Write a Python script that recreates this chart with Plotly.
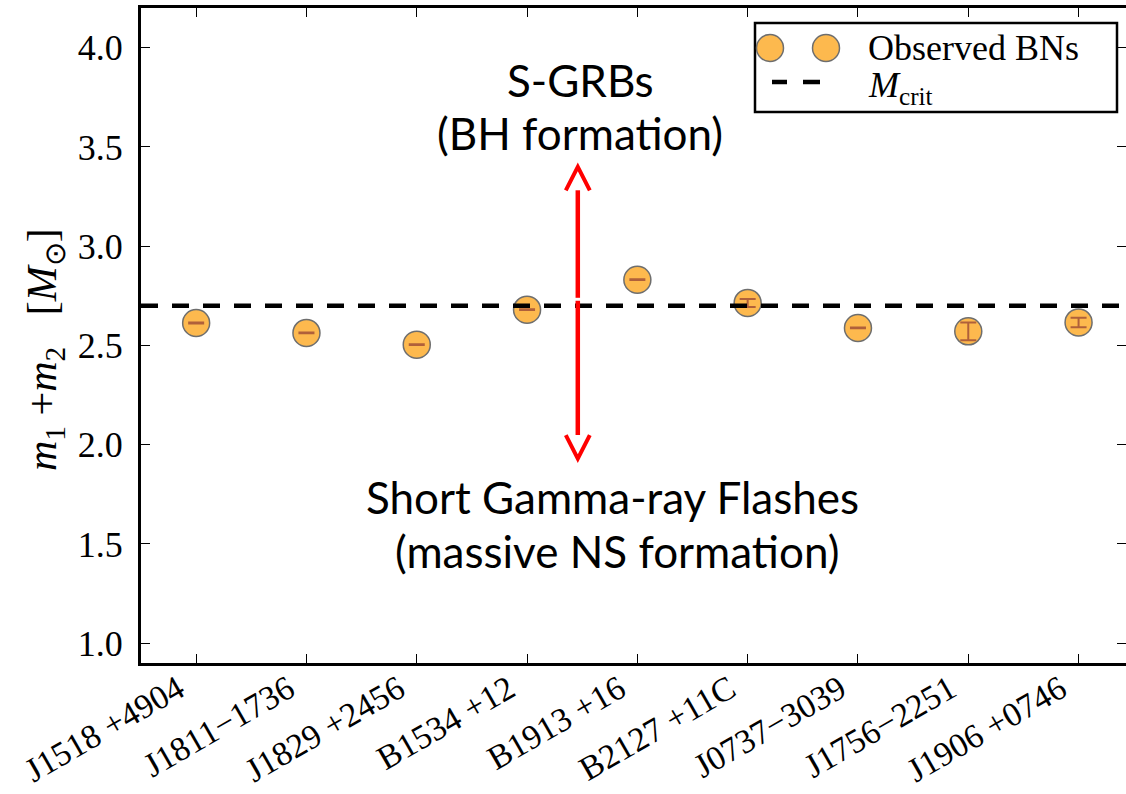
import plotly.graph_objects as go

# Double neutron star binaries and their total masses
pulsars = ["J1518 +4904", "J1811−1736", "J1829 +2456", "B1534 +12", "B1913 +16",
           "B2127 +11C", "J0737−3039", "J1756−2251", "J1906 +0746"]
total_mass = [2.613, 2.563, 2.504, 2.680, 2.831, 2.714, 2.588, 2.571, 2.616]
mass_err = [0.002, 0.002, 0.002, 0.002, 0.002, 0.020, 0.002, 0.045, 0.024]
M_CRIT = 2.70
y_ticks = [1.0, 1.5, 2.0, 2.5, 3.0, 3.5, 4.0]

# Region arrow (up: BH formation, down: massive NS formation)
ARROW_X = 3.46
ARROW_UP = (2.74, 3.40)
ARROW_DOWN = (2.725, 1.93)

W, H = 1126, 794
L, T, B = 141, 8, 131
PW, PH = W - L, H - T - B
X_RANGE = [-0.5, 8.43]
Y_RANGE = [0.9, 4.2]

SERIF = "Liberation Serif"
SANS = "Lato"
FILL = "#FDB94E"
EDGE = "#6E6E6E"
ERR = "#B0603A"


def px_x(px):
    return (px - L) / PW


def px_y(py):
    return (H - B - py) / PH


def ux(px):  # pixel length -> x data units
    return px * (X_RANGE[1] - X_RANGE[0]) / PW


def uy(px):  # pixel length -> y data units
    return px * (Y_RANGE[1] - Y_RANGE[0]) / PH


xs = list(range(len(pulsars)))

fig = go.Figure()
fig.add_trace(go.Scatter(
    x=xs, y=total_mass, mode="markers",
    marker=dict(size=27, color=FILL, line=dict(color=EDGE, width=1.5)),
    showlegend=False,
))
# error bars drawn above the markers
fig.add_trace(go.Scatter(
    x=xs, y=total_mass, mode="markers",
    marker=dict(size=1, color="rgba(0,0,0,0)"),
    error_y=dict(type="data", array=mass_err, color=ERR, thickness=2, width=8),
    showlegend=False, hoverinfo="skip",
))

shapes = []
# critical mass line
shapes.append(dict(type="line", xref="paper", yref="y", x0=0, x1=1, y0=M_CRIT, y1=M_CRIT,
                   line=dict(color="black", width=4.5, dash="17px,14px"), layer="above"))

# arrows with open chevron heads
red = dict(color="#FF0000", width=4.5)
dx, dy = ux(12), uy(23.5)
for start, tip in (ARROW_UP, ARROW_DOWN):
    sgn = 1 if tip > start else -1
    base = tip - sgn * dy
    shapes.append(dict(type="line", xref="x", yref="y", x0=ARROW_X, x1=ARROW_X,
                       y0=start, y1=base, line=red, layer="above"))
    shapes.append(dict(type="path", xref="x", yref="y",
                       path=f"M {ARROW_X - dx} {base} L {ARROW_X} {tip} L {ARROW_X + dx} {base}",
                       line=dict(color="#FF0000", width=4), layer="above"))

# legend box
shapes.append(dict(type="rect", xref="paper", yref="paper",
                   x0=px_x(755), x1=px_x(1117), y0=px_y(112), y1=px_y(23),
                   line=dict(color="black", width=2.5), fillcolor="white", layer="above"))
for cx in (770, 826):
    r = 13.5
    shapes.append(dict(type="circle", xref="paper", yref="paper",
                       x0=px_x(cx - r), x1=px_x(cx + r), y0=px_y(48 + r), y1=px_y(48 - r),
                       line=dict(color=EDGE, width=1.5), fillcolor=FILL, layer="above"))
for a, b in ((772, 787), (803, 820)):
    shapes.append(dict(type="line", xref="paper", yref="paper",
                       x0=px_x(a), x1=px_x(b), y0=px_y(82), y1=px_y(82),
                       line=dict(color="black", width=4.5), layer="above"))

annotations = [
    dict(xref="paper", yref="paper", x=px_x(866), y=px_y(48), xanchor="left", yanchor="middle",
         text="Observed BNs", showarrow=False, font=dict(family=SERIF, size=36, color="black")),
    dict(xref="paper", yref="paper", x=px_x(866), y=px_y(88), xanchor="left", yanchor="middle",
         text="<i>M</i><sub>crit</sub>", showarrow=False, font=dict(family=SERIF, size=36, color="black")),
    dict(xref="paper", yref="paper", x=px_x(580), y=px_y(80), xanchor="center", yanchor="middle",
         text="S-GRBs", showarrow=False, font=dict(family=SANS, size=44, color="black")),
    dict(xref="paper", yref="paper", x=px_x(580), y=px_y(133), xanchor="center", yanchor="middle",
         text="(BH formation)", showarrow=False, font=dict(family=SANS, size=44, color="black")),
    dict(xref="paper", yref="paper", x=px_x(612), y=px_y(497), xanchor="center", yanchor="middle",
         text="Short Gamma-ray Flashes", showarrow=False, font=dict(family=SANS, size=44, color="black")),
    dict(xref="paper", yref="paper", x=px_x(617), y=px_y(551), xanchor="center", yanchor="middle",
         text="(massive NS formation)", showarrow=False, font=dict(family=SANS, size=44, color="black")),
    dict(xref="paper", yref="paper", x=px_x(45), y=px_y(350), xanchor="center", yanchor="middle",
         textangle=-90, showarrow=False,
         text="<i>m</i><sub>1</sub> +<i>m</i><sub>2</sub>   [<i>M</i><sub>⊙</sub>]",
         font=dict(family=SERIF, size=42, color="black")),
]

fig.update_layout(
    width=W, height=H,
    margin=dict(l=L, r=0, t=T, b=B, pad=0, autoexpand=False),
    paper_bgcolor="white", plot_bgcolor="white",
    shapes=shapes, annotations=annotations,
    xaxis=dict(
        range=X_RANGE, tickvals=xs, ticktext=pulsars, tickangle=-30, automargin=False,
        ticks="inside", ticklen=9, tickwidth=1, tickcolor="black",
        showline=True, linewidth=3, linecolor="black", mirror="ticks",
        showgrid=False, zeroline=False, ticklabelstandoff=-10, ticklabelshift=-18,
        tickfont=dict(family=SERIF, size=34, color="black"),
    ),
    yaxis=dict(
        range=Y_RANGE, tickvals=y_ticks, ticktext=[f"{v:.1f}" for v in y_ticks], automargin=False,
        ticks="inside", ticklen=9, tickwidth=1, tickcolor="black",
        showline=True, linewidth=3, linecolor="black", mirror=False,
        showgrid=False, zeroline=False, ticklabelstandoff=8,
        tickfont=dict(family=SERIF, size=36, color="black"),
    ),
    yaxis2=dict(
        range=Y_RANGE, tickvals=y_ticks, overlaying="y", side="right", automargin=False,
        ticks="inside", ticklen=9, tickwidth=1, tickcolor="black",
        showticklabels=False, showline=False, showgrid=False, zeroline=False,
    ),
)
# invisible trace to activate the right-hand tick axis
fig.add_trace(go.Scatter(x=[None], y=[None], yaxis="y2", showlegend=False, hoverinfo="skip"))

fig.write_html("out.html")
